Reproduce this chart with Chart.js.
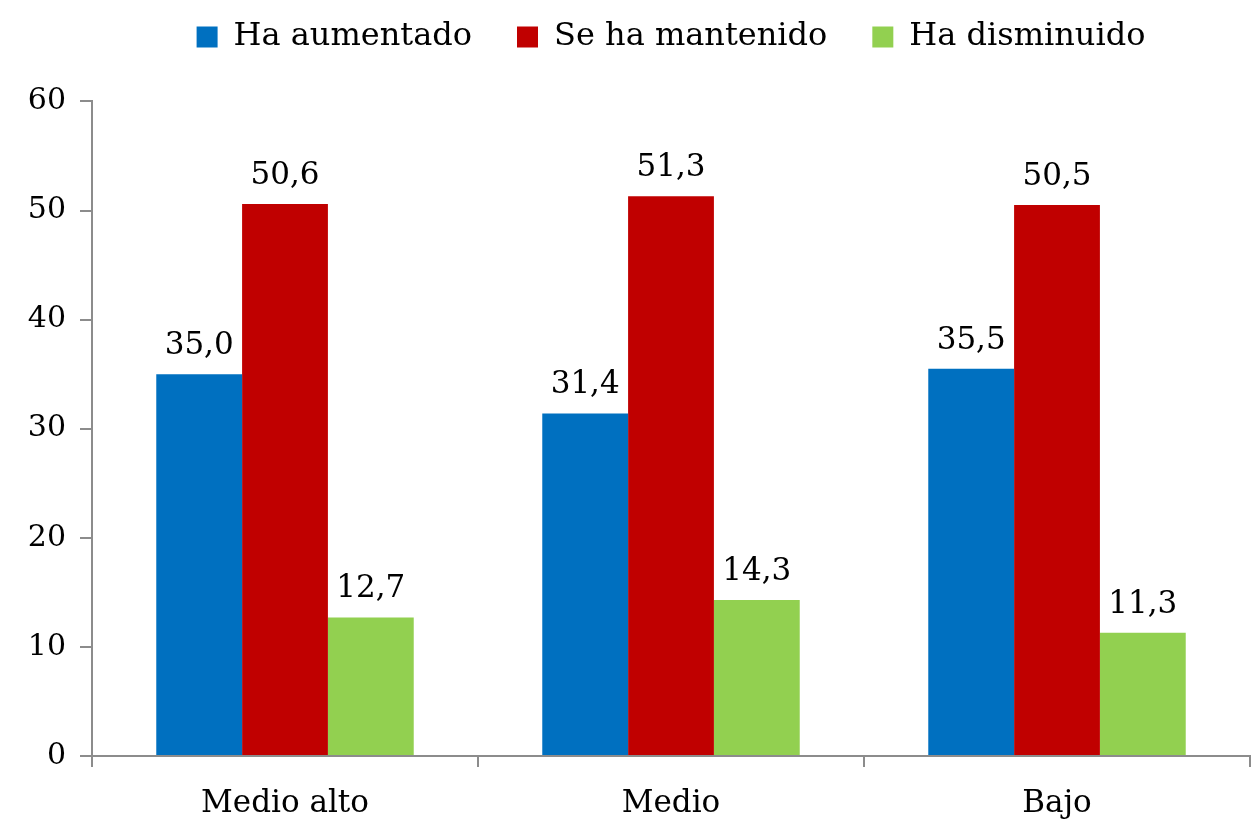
<!DOCTYPE html>
<html>
<head>
<meta charset="utf-8">
<script src="https://cdn.jsdelivr.net/npm/chart.js@4"></script>
<style>
  html, body { margin: 0; padding: 0; background: #fff; }
  #wrap { width: 1259px; height: 829px; }
</style>
</head>
<body>
<div id="wrap"><canvas id="nivelChart"></canvas></div>
<script>
const categories = ['Medio alto', 'Medio', 'Bajo'];
const seriesNames = ['Ha aumentado', 'Se ha mantenido', 'Ha disminuido'];
const aumentado = [35.0, 31.4, 35.5];
const mantenido = [50.6, 51.3, 50.5];
const disminuido = [12.7, 14.3, 11.3];
const colors = ['#0070C0', '#C00000', '#92D050'];

const FONT = 'DejaVu Serif';

// value labels above bars, decimal comma
const barLabels = {
    id: 'barLabels',
    afterDatasetsDraw(chart) {
        const ctx = chart.ctx;
        ctx.save();
        ctx.font = '31px "' + FONT + '"';
        ctx.fillStyle = '#000';
        ctx.textAlign = 'center';
        ctx.textBaseline = 'alphabetic';
        chart.data.datasets.forEach((ds, i) => {
            chart.getDatasetMeta(i).data.forEach((bar, j) => {
                const txt = ds.data[j].toFixed(1).replace('.', ',');
                ctx.fillText(txt, bar.x, bar.y - 20);
            });
        });
        ctx.restore();
    }
};

const ctx = document.getElementById('nivelChart').getContext('2d');
const nivelChart = new Chart(ctx, {
    type: 'bar',
    data: {
        labels: categories,
        datasets: [
            { label: seriesNames[0], data: aumentado, backgroundColor: colors[0] },
            { label: seriesNames[1], data: mantenido, backgroundColor: colors[1] },
            { label: seriesNames[2], data: disminuido, backgroundColor: colors[2] }
        ]
    },
    options: {
        responsive: true,
        maintainAspectRatio: false,
        animation: false,
        layout: { padding: { left: 0, right: 9, top: -24, bottom: 0 } },
        datasets: {
            bar: { categoryPercentage: 0.667, barPercentage: 1.0 }
        },
        scales: {
            x: {
                grid: { drawOnChartArea: false, drawTicks: true, tickLength: 11, color: '#8c8c8c', lineWidth: 2, offset: true },
                border: { color: '#8c8c8c', width: 2 },
                ticks: { color: '#000', font: { family: FONT, size: 31 }, padding: 18 },
                afterFit(scale) { scale.height = 73; }
            },
            y: {
                min: 0,
                max: 60,
                grid: { drawOnChartArea: false, drawTicks: true, tickLength: 12, color: '#8c8c8c', lineWidth: 2 },
                border: { color: '#8c8c8c', width: 2 },
                ticks: { stepSize: 10, color: '#000', font: { family: FONT, size: 30 }, padding: 14 },
                afterFit(scale) { scale.width = 92; }
            }
        },
        plugins: {
            legend: {
                display: true,
                position: 'top',
                fullSize: false,
                labels: {
                    boxWidth: 21,
                    boxHeight: 21,
                    padding: 45,
                    color: '#000',
                    font: { family: FONT, size: 32 }
                }
            },
            // blank spacer between legend and plot
            subtitle: {
                display: true,
                text: ' ',
                weight: 500,
                padding: 12,
                font: { size: 12 }
            },
            tooltip: { enabled: false }
        }
    },
    plugins: [barLabels]
});
</script>
</body>
</html>
